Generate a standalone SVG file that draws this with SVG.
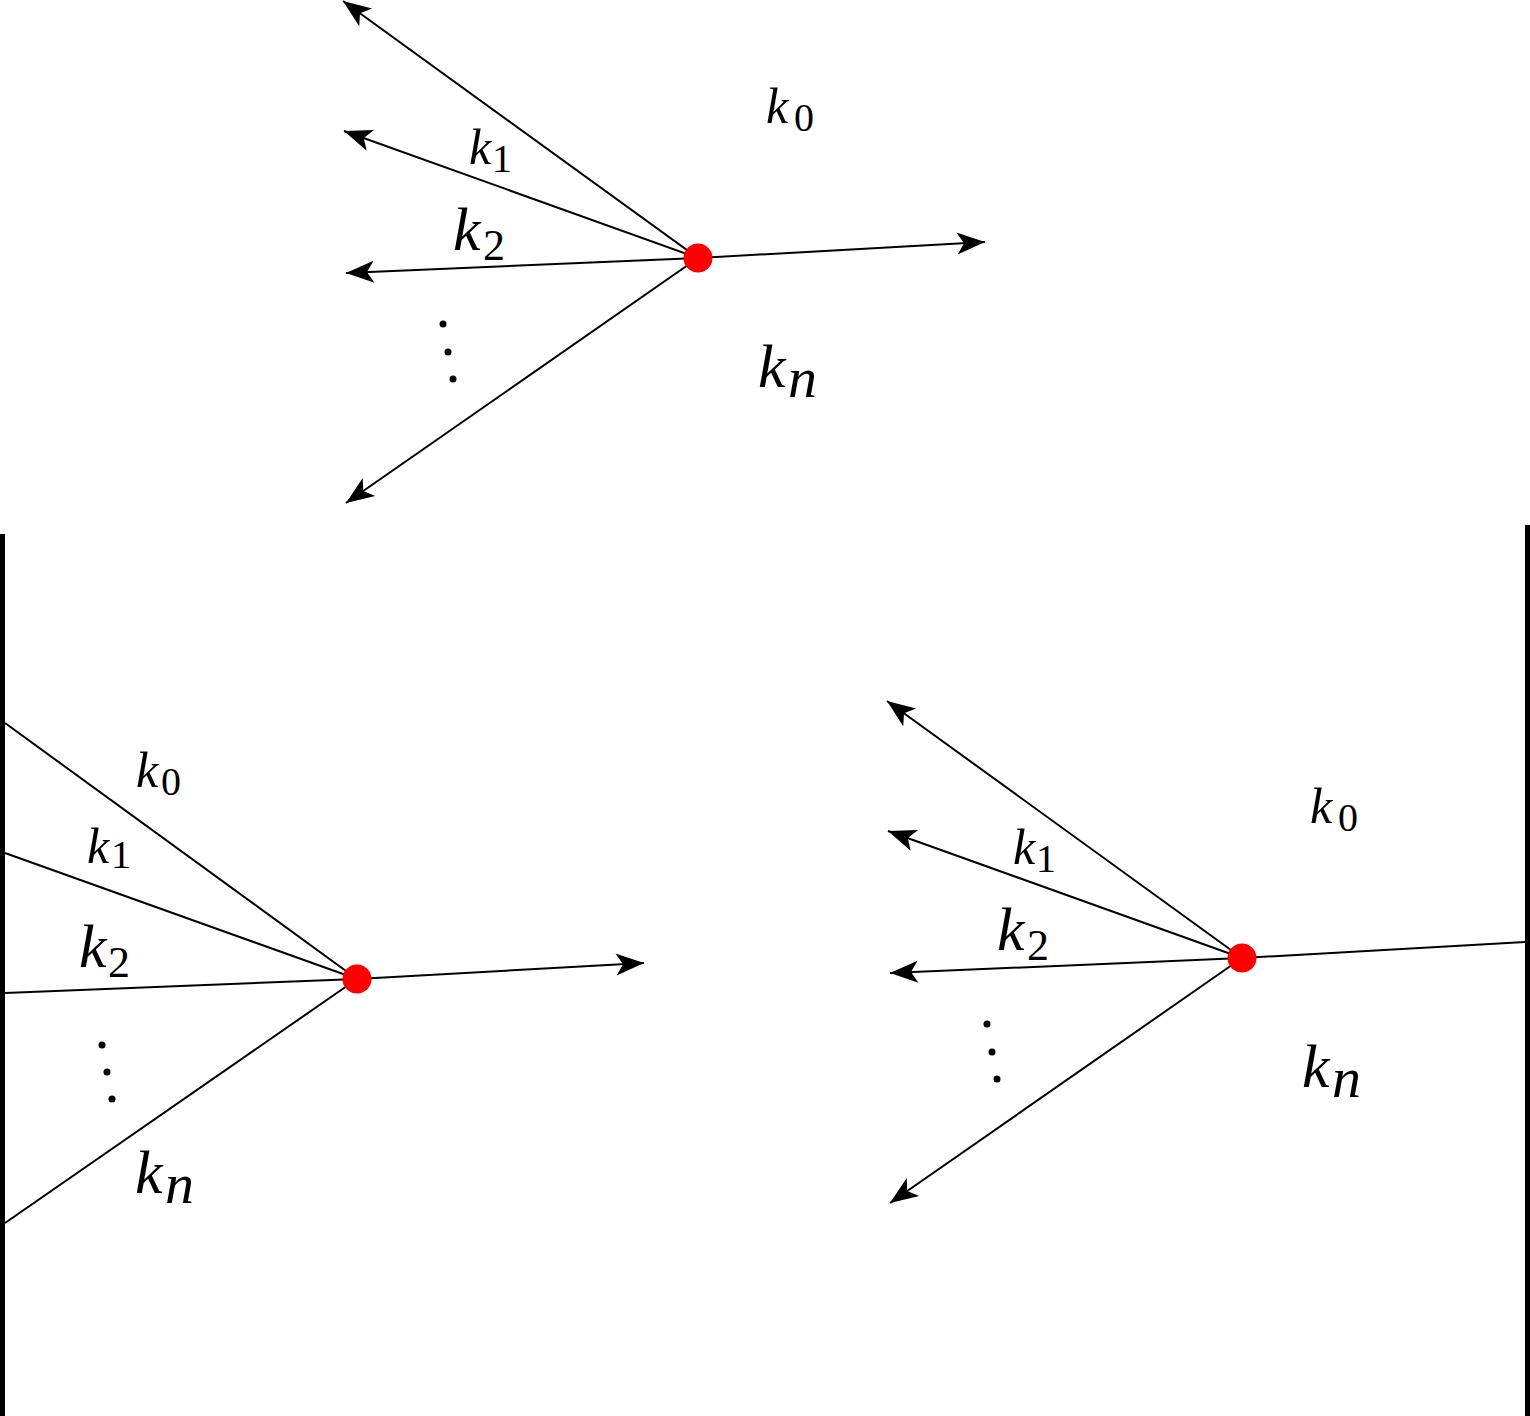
<svg xmlns="http://www.w3.org/2000/svg" width="1530" height="1416" viewBox="0 0 1530 1416">
<style>
.ln{stroke:#000;stroke-width:2;fill:none}
.arr{marker-end:url(#ah)}
.wall{fill:#000}
.dot{fill:#ff0000}
.el{fill:#000}
.k{font-style:italic;fill:#000}
.s{font-style:normal;fill:#000}
.ks{font-size:50px}
.kb{font-size:62px}
.ss{font-size:40px}
.sb{font-size:44px}
.nb{font-style:italic;font-size:58px}
</style>
<defs>
<marker id="ah" markerUnits="userSpaceOnUse" markerWidth="32" markerHeight="26" viewBox="-29 -13 32 26" refX="0" refY="0" orient="auto">
<path d="M0,0 L-28,-11 L-21,0 L-28,11 Z" fill="#000"/>
</marker>
</defs>
<rect width="1530" height="1416" fill="#fff"/>
<g id="walls">
<rect class="wall" x="0" y="534" width="5" height="882"/>
<rect class="wall" x="1525" y="525" width="5" height="891"/>
</g>
<g id="connectors">
<line class="ln arr" x1="698" y1="258" x2="343" y2="1"/>
<line class="ln arr" x1="698" y1="258" x2="344" y2="131"/>
<line class="ln arr" x1="698" y1="258" x2="346" y2="273"/>
<line class="ln arr" x1="698" y1="258" x2="346" y2="503"/>
<line class="ln arr" x1="698" y1="258" x2="985" y2="242"/>
<line class="ln" x1="357" y1="979" x2="5" y2="723"/>
<line class="ln" x1="357" y1="979" x2="5" y2="853"/>
<line class="ln" x1="357" y1="979" x2="5" y2="993"/>
<line class="ln" x1="357" y1="979" x2="5" y2="1223"/>
<line class="ln arr" x1="357" y1="979" x2="644" y2="963"/>
<line class="ln arr" x1="1242" y1="958" x2="887" y2="701"/>
<line class="ln arr" x1="1242" y1="958" x2="888" y2="831"/>
<line class="ln arr" x1="1242" y1="958" x2="890" y2="973"/>
<line class="ln arr" x1="1242" y1="958" x2="890" y2="1203"/>
<line class="ln" x1="1242" y1="958" x2="1525" y2="942"/>
</g>
<g id="node-top">
<circle class="dot" cx="698" cy="258" r="14.5"/>
</g>
<g id="node-bottom-left">
<circle class="dot" cx="357" cy="979" r="14.5"/>
</g>
<g id="node-bottom-right">
<circle class="dot" cx="1242" cy="958" r="14.5"/>
</g>
<g id="labels" font-family="'Liberation Serif', 'Times New Roman', serif">
<g id="labels-top">
<text class="k ks" x="766" y="123">k</text><text class="s ss" x="794" y="131">0</text>
<text class="k ks" x="469" y="164">k</text><text class="s ss" x="492" y="172">1</text>
<text class="k kb" x="453" y="250">k</text><text class="s sb" x="483" y="260">2</text>
<text class="k kb" x="758" y="387">k</text><text class="s nb" x="788" y="397">n</text>
<circle class="el" cx="443" cy="324" r="3.5"/>
<circle class="el" cx="448" cy="352" r="3.5"/>
<circle class="el" cx="453" cy="379" r="3.5"/>
</g>
<g id="labels-bottom-left">
<text class="k ks" x="136" y="787">k</text><text class="s ss" x="161" y="795">0</text>
<text class="k ks" x="87" y="863">k</text><text class="s ss" x="111" y="868">1</text>
<text class="k kb" x="79" y="967">k</text><text class="s sb" x="108" y="977">2</text>
<text class="k kb" x="135" y="1193">k</text><text class="s nb" x="165" y="1203">n</text>
<circle class="el" cx="102" cy="1045" r="3.5"/>
<circle class="el" cx="107" cy="1072" r="3.5"/>
<circle class="el" cx="112" cy="1099" r="3.5"/>
</g>
<g id="labels-bottom-right">
<text class="k ks" x="1310" y="823">k</text><text class="s ss" x="1338" y="831">0</text>
<text class="k ks" x="1013" y="864">k</text><text class="s ss" x="1036" y="872">1</text>
<text class="k kb" x="997" y="950">k</text><text class="s sb" x="1027" y="960">2</text>
<text class="k kb" x="1302" y="1087">k</text><text class="s nb" x="1332" y="1097">n</text>
<circle class="el" cx="987" cy="1024" r="3.5"/>
<circle class="el" cx="992" cy="1052" r="3.5"/>
<circle class="el" cx="997" cy="1079" r="3.5"/>
</g>
</g>
</svg>
